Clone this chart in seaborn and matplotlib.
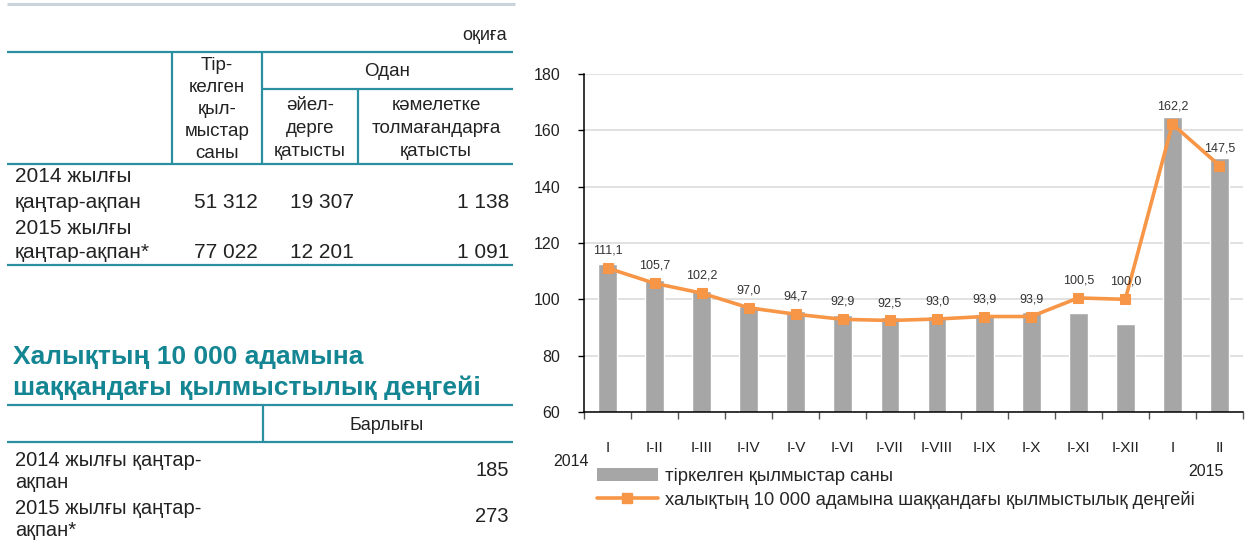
import numpy as np
import pandas as pd
import matplotlib
matplotlib.use("Agg")
import matplotlib.pyplot as plt
import seaborn as sns
from matplotlib.lines import Line2D
from matplotlib.patches import Patch

# ---------------- data ----------------
periods = ["I", "I-II", "I-III", "I-IV", "I-V", "I-VI", "I-VII", "I-VIII",
           "I-IX", "I-X", "I-XI", "I-XII", "I", "II"]
crimes_registered = [112.5, 106.9, 103.0, 97.6, 95.9, 94.4, 93.7, 94.1,
                     94.8, 95.5, 95.1, 91.2, 164.7, 150.2]
crime_rate = [111.1, 105.7, 102.2, 97.0, 94.7, 92.9, 92.5, 93.0,
              93.9, 93.9, 100.5, 100.0, 162.2, 147.5]
y_ticks = [60, 80, 100, 120, 140, 160, 180]
legend_labels = ["тіркелген қылмыстар саны",
                 "халықтың 10 000 адамына шаққандағы қылмыстылық деңгейі"]

table_unit = "оқиға"
table_rows = [["2014 жылғы", "қаңтар-ақпан"], ["2015 жылғы", "қаңтар-ақпан*"]]
registered = ["51 312", "77 022"]
women = ["19 307", "12 201"]
minors = ["1 138", "1 091"]
hdr_registered = ["Тір-", "келген", "қыл-", "мыстар", "саны"]
hdr_of_which = "Одан"
hdr_women = ["әйел-", "дерге", "қатысты"]
hdr_minors = ["кәмелетке", "толмағандарға", "қатысты"]

title_lines = ["Халықтың 10 000 адамына", "шаққандағы қылмыстылық деңгейі"]
hdr_total = "Барлығы"
rate_rows = [["2014 жылғы қаңтар-", "ақпан"], ["2015 жылғы қаңтар-", "ақпан*"]]
rate_total = ["185", "273"]

# ---------------- style ----------------
sns.set_theme(style="white")
plt.rcParams["font.family"] = ["Liberation Sans", "DejaVu Sans"]

TEAL = "#2a8fa1"
TITLE = "#148592"
TXT = "#222222"
BAR = "#a6a6a6"
ORANGE = "#f79646"

W, H = 1246, 541
fig = plt.figure(figsize=(W / 100, H / 100), dpi=100)
fig.patch.set_facecolor("white")

# background axes in pixel coordinates for the text tables
bg = fig.add_axes([0, 0, 1, 1])
bg.set_xlim(0, W)
bg.set_ylim(H, 0)
bg.axis("off")


def hline(y, x0, x1, color=TEAL, lw=1.6):
    bg.plot([x0, x1], [y, y], color=color, lw=lw, solid_capstyle="butt")


def vline(x, y0, y1, color=TEAL, lw=1.6):
    bg.plot([x, x], [y0, y1], color=color, lw=lw, solid_capstyle="butt")


def lines(txts, x, y0, step, ha="center", size=14):
    for k, t in enumerate(txts):
        bg.text(x, y0 + k * step, t, ha=ha, va="center", fontsize=size, color=TXT)


# top decorative line
hline(4, 7, 515, color="#c9d4da", lw=2.2)

# ----- table 1 -----
bg.text(507, 36, table_unit, ha="right", va="center", fontsize=13, color=TXT)
hline(52, 7, 513)
vline(172, 52, 164)
vline(262, 52, 164)
vline(358, 89, 164)
hline(89, 262, 513)
hline(164, 7, 513)
hline(265, 7, 513)

lines(hdr_registered, 217, 65, 22.2, size=13.5)
bg.text(387, 72, hdr_of_which, ha="center", va="center", fontsize=13.5, color=TXT)
lines(hdr_women, 310, 106, 22.5, size=13.5)
lines(hdr_minors, 436, 106, 22.5, size=13.5)

for i in range(2):
    y1 = 177 + i * 51
    y2 = y1 + 25
    lines(table_rows[i], 15, y1, 25, ha="left", size=15)
    bg.text(258, y2, registered[i], ha="right", va="center", fontsize=15, color=TXT)
    bg.text(354, y2, women[i], ha="right", va="center", fontsize=15, color=TXT)
    bg.text(509, y2, minors[i], ha="right", va="center", fontsize=15, color=TXT)

# ----- title + table 2 -----
for k, t in enumerate(title_lines):
    bg.text(13, 357 + k * 31, t, ha="left", va="center", fontsize=19,
            fontweight="bold", color=TITLE)
hline(405, 7, 513)
vline(263, 405, 442)
hline(442, 7, 513)
bg.text(387, 426, hdr_total, ha="center", va="center", fontsize=13, color=TXT)
for i in range(2):
    y1 = 461 + i * 47
    lines(rate_rows[i], 15, y1, 22, ha="left", size=14.5)
    bg.text(509, y1 + 9, rate_total[i], ha="right", va="center", fontsize=14.5, color=TXT)

# ---------------- chart ----------------
x0, x1, yt, yb = 584, 1243, 74, 412
ax = fig.add_axes([x0 / W, (H - yb) / H, (x1 - x0) / W, (yb - yt) / H])
df = pd.DataFrame({"pos": np.arange(len(periods)),
                   "registered": crimes_registered,
                   "rate": crime_rate})
sns.barplot(data=df, x="pos", y="registered", color=BAR, saturation=1,
            width=0.4, ax=ax, zorder=2)
sns.lineplot(data=df, x="pos", y="rate", color=ORANGE, marker="s",
             markersize=7, markeredgecolor=ORANGE, linewidth=2.6, ax=ax, zorder=3)

for i, v in enumerate(crime_rate):
    ax.annotate(f"{v:.1f}".replace(".", ","), (i, v), xytext=(0, 12.5),
                textcoords="offset points", ha="center", va="center",
                fontsize=9, color="#333333", zorder=4)

ax.set_xlim(-0.5, len(periods) - 0.5)
ax.set_ylim(60, 180)
ax.set_yticks(y_ticks)
ax.set_yticklabels([str(t) for t in y_ticks], fontsize=11.5, color=TXT)
ax.set_xticks(np.arange(len(periods)))
ax.set_xticklabels(periods, fontsize=11, color=TXT)
ax.set_xticks(np.arange(-0.5, len(periods), 1), minor=True)
ax.tick_params(axis="x", which="major", length=0, pad=21)
ax.tick_params(axis="x", which="minor", length=5, width=1, color="#555555",
               direction="out", bottom=True)
ax.tick_params(axis="y", which="major", length=4, width=1, color="black",
               direction="out", left=True, pad=13)
ax.set_xlabel("")
ax.set_ylabel("")
ax.grid(axis="y", color="#d9d9d9", lw=1.1)
ax.grid(axis="x", visible=False)
ax.set_axisbelow(True)
for s in ["top", "right"]:
    ax.spines[s].set_visible(False)
for s in ["left", "bottom"]:
    ax.spines[s].set_color("black")
    ax.spines[s].set_linewidth(1.1)
ax.set_facecolor("white")
if ax.get_legend():
    ax.get_legend().remove()

fig.text(571 / W, 1 - 462 / H, "2014", ha="center", va="center", fontsize=11.5, color=TXT)
fig.text(1206 / W, 1 - 471 / H, "2015", ha="center", va="center", fontsize=11.5, color=TXT)

handles = [Patch(facecolor=BAR, edgecolor="none"),
           Line2D([], [], color=ORANGE, marker="s", lw=2.6, markersize=6.5)]
fig.legend(handles, legend_labels, loc="upper left",
           bbox_to_anchor=(597 / W, 1 - 468 / H), frameon=False, fontsize=13.3,
           handlelength=3.3, handletextpad=0.4, labelspacing=0.32,
           borderpad=0, borderaxespad=0)

fig.savefig("out.png", dpi=100, facecolor="white")
